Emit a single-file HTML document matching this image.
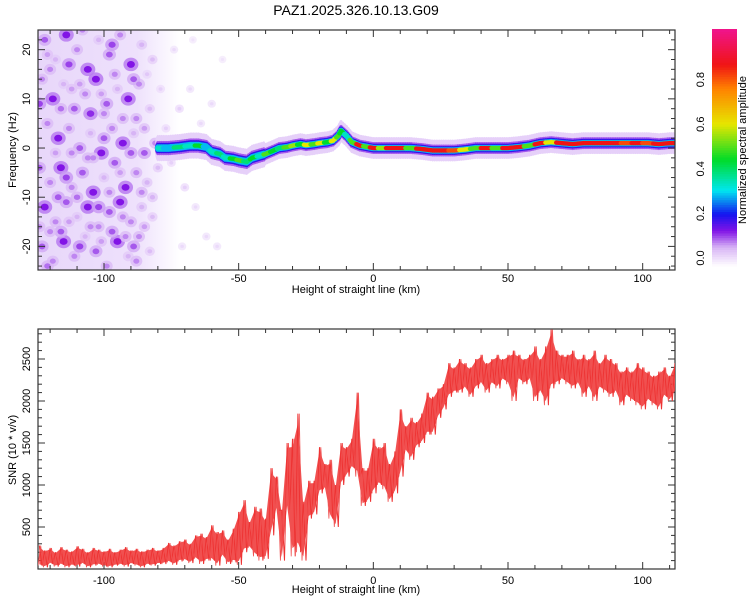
<!DOCTYPE html>
<html><head><meta charset="utf-8"><style>
body{margin:0;background:#fff;width:750px;height:600px;overflow:hidden}
svg{font-family:"Liberation Sans",sans-serif}
</style></head><body>
<svg id="c" width="750" height="600"></svg>
<script>
// ---- data ----
const xTicks=[-100,-50,0,50,100];
const freqTicks=[-20,-10,0,10,20];
const snrTicks=[500,1000,1500,2000,2500];
const cbTicks=[0,0.2,0.4,0.6,0.8];
const ridgeKm=[-80,-76,-72,-68,-65,-62,-60,-57,-55,-52,-50,-47,-45,-42,-40,-37,-35,-32,-30,-27,-25,-22,-20,-17,-15,-13,-12,-10,-8,-5,-3,0,3,6,10,14,18,22,26,30,34,38,42,46,50,54,58,62,66,70,74,78,82,86,90,94,98,102,106,110,112];
const ridgeHz=[0,0,0.2,0.5,0.5,0.2,-0.8,-1.2,-2,-2.2,-2.5,-2.8,-2,-1.5,-1.2,-0.5,0,0.2,0.5,0.8,0.6,0.8,1,1.2,1.5,2.5,3.5,2.5,1.2,0.5,0.3,0,0,0,0,0,-0.2,-0.5,-0.5,-0.5,-0.3,0,0,0,0,0.2,0.5,1,1.2,1,0.8,1,1,1,1,1,1,1,0.8,1,1];
const ridgeAmp=[0.35,0.3,0.4,0.35,0.45,0.3,0.35,0.4,0.35,0.45,0.5,0.4,0.45,0.35,0.5,0.45,0.4,0.5,0.55,0.45,0.6,0.5,0.6,0.45,0.6,0.5,0.45,0.35,0.5,0.85,0.5,0.85,0.55,0.85,0.85,0.5,0.85,0.85,0.85,0.8,0.6,0.5,0.85,0.5,0.85,0.85,0.5,0.85,0.6,0.85,0.85,0.85,0.85,0.85,0.85,0.8,0.85,0.8,0.85,0.85,0.85];
const blobs=[[-122,22,0.12],[-118,18,0.08],[-114,23,0.15],[-110,20,0.1],[-106,16,0.15],[-102,22,0.08],[-98,19,0.12],[-94,23,0.1],[-90,17,0.15],[-86,21,0.08],[-82,18,0.07],
[-123,14,0.1],[-119,10,0.15],[-115,13,0.08],[-111,8,0.12],[-107,11,0.1],[-103,14,0.15],[-99,9,0.12],[-95,12,0.08],[-91,10,0.15],[-87,13,0.1],[-83,8,0.07],[-79,12,0.05],
[-121,5,0.1],[-117,2,0.15],[-113,4,0.1],[-109,0,0.12],[-105,3,0.08],[-101,-1,0.15],[-97,4,0.1],[-93,1,0.15],[-89,3,0.08],[-85,-1,0.12],[-81,1,0.1],
[-124,-4,0.12],[-120,-7,0.1],[-116,-4,0.15],[-112,-8,0.1],[-108,-5,0.12],[-104,-9,0.15],[-100,-6,0.08],[-96,-3,0.12],[-92,-8,0.15],[-88,-5,0.1],[-84,-7,0.08],[-80,-4,0.07],
[-122,-12,0.15],[-118,-15,0.1],[-114,-11,0.12],[-110,-14,0.08],[-106,-12,0.15],[-102,-16,0.1],[-98,-13,0.12],[-94,-11,0.15],[-90,-15,0.1],[-86,-12,0.08],[-82,-14,0.07],
[-123,-20,0.12],[-119,-23,0.1],[-115,-19,0.15],[-111,-22,0.1],[-107,-18,0.08],[-103,-21,0.12],[-99,-24,0.1],[-95,-19,0.15],[-91,-22,0.08],[-87,-18,0.1],[-83,-21,0.07],
[-120,16,0.1],[-108,24,0.1],[-96,15,0.1],[-112,-1,0.1],[-100,7,0.1],[-88,6,0.1],[-116,-17,0.12],[-104,-2,0.1],[-92,-18,0.1],[-84,15,0.06],[-77,4,0.05],[-75,-3,0.05],
[-72,8,0.05],[-70,-8,0.05],[-68,12,0.04],[-66,-12,0.04],[-64,5,0.04],[-62,-18,0.04],[-60,9,0.04],[-58,-20,0.04],[-56,18,0.03],[-74,20,0.04],[-71,-20,0.04],[-67,22,0.03],
[-121,19,0.09],[-116,8,0.11],[-113,17,0.13],[-109,13,0.09],[-105,7,0.14],[-101,11,0.09],[-97,21,0.13],[-93,6,0.1],[-89,14,0.12],[-85,4,0.09],[-124,9,0.13],[-118,-1,0.09],
[-114,-6,0.13],[-110,-10,0.11],[-106,-2,0.1],[-102,-12,0.13],[-98,-9,0.1],[-94,-5,0.09],[-90,-1,0.12],[-86,-9,0.1],[-82,-10,0.08],[-120,-17,0.1],[-117,-10,0.12],[-113,-15,0.09],
[-109,-20,0.13],[-105,-16,0.1],[-101,-19,0.09],[-97,-17,0.12],[-93,-14,0.1],[-89,-20,0.12],[-85,-16,0.09],[-124,-16,0.1],[-121,-24,0.11],[-112,12,0.09],[-100,2,0.12],[-88,-23,0.1]];
const snrHi=[280,220,250,200,260,230,210,270,240,200,250,230,210,240,200,230,260,220,240,210,230,250,220,
250,310,280,330,350,300,400,420,380,
520,440,460,350,480,
680,820,560,740,720,600,
1200,1100,700,1500,1550,1850,
800,1050,1050,1450,1250,1300,
1000,1500,1450,1550,2100,1200,
1200,1550,1450,1500,1250,1400,
1900,1700,1800,1750,1850,2100,
2050,2150,2200,2450,2400,
2500,2450,2400,2500,2550,2450,2500,2550,2500,
2550,2600,2550,2500,2550,2650,2500,2650,2850,2600,2550,
2550,2600,2500,2550,2500,2600,2450,2550,2500,2450,
2350,2400,2350,2450,2400,2350,2300,2350,2400,2300,2450];
const snrLo=[40,20,60,30,50,20,40,30,60,20,40,50,30,20,40,50,30,60,40,20,50,40,60,
60,80,50,90,100,70,120,60,100,
100,40,150,60,80,
50,200,250,150,100,120,
400,700,100,700,150,200,
100,600,650,900,950,600,
500,1000,1100,1200,1100,750,
800,900,1000,950,800,900,
1100,1400,1300,1450,1500,1600,
1600,1800,1900,2050,2100,
2100,2150,2050,2150,2200,2100,2200,2150,2250,
2200,2000,2250,2200,2250,2000,2100,1950,2150,2200,2250,
2200,2150,2200,2050,2150,2000,2150,2100,2050,2100,
1950,2050,2000,1950,1900,2000,1950,1900,2050,2000,2100];
const snrStart=-124, snrStep=2;

// ---- helpers ----
const NS="http://www.w3.org/2000/svg";
const svg=document.getElementById('c');
function mk(tag,attrs,parent){const e=document.createElementNS(NS,tag);for(const k in attrs)e.setAttribute(k,attrs[k]);(parent||svg).appendChild(e);return e;}
const X0=38,X1=675,KM0=-124.5,KM1=112;
const xs=v=>X0+(v-KM0)/(KM1-KM0)*(X1-X0);
const T0=30,T1=270,HZ0=24,HZ1=-24.8;
const ys=v=>T0+(HZ0-v)/(HZ0-HZ1)*(T1-T0);
const B0=329,B1=569,S1=2857;
const yb=v=>B1-v/S1*(B1-B0);
const stops=[[0,[255,255,255]],[0.08,[215,180,245]],[0.15,[130,20,230]],[0.22,[20,20,240]],[0.32,[0,230,240]],[0.45,[0,220,40]],[0.6,[230,230,0]],[0.75,[255,130,0]],[0.85,[240,20,20]],[1,[240,20,140]]];
function cmap(a){for(let i=1;i<stops.length;i++){if(a<=stops[i][0]){const [p0,c0]=stops[i-1],[p1,c1]=stops[i];const t=(a-p0)/(p1-p0);return 'rgb('+c0.map((c,j)=>Math.round(c+(c1[j]-c)*t)).join(',')+')';}}return 'rgb(240,20,140)';}

// title
let t=mk('text',{x:356,y:15,'text-anchor':'middle','font-size':14,fill:'#000'});t.textContent='PAZ1.2025.326.10.13.G09';



// ---- top spectrogram ----
const defs=mk('defs',{});
const cp=mk('clipPath',{id:'clipT'},defs);mk('rect',{x:X0,y:T0,width:X1-X0,height:T1-T0},cp);
const lg=mk('linearGradient',{id:'fade',x1:0,x2:1,y1:0,y2:0},defs);
mk('stop',{offset:0,'stop-color':'rgb(232,215,250)'},lg);mk('stop',{offset:0.7,'stop-color':'rgb(238,225,252)'},lg);mk('stop',{offset:1,'stop-color':'#fff'},lg);
const gTop=mk('g',{'clip-path':'url(#clipT)'});


mk('rect',{x:X0,y:T0,width:xs(-72)-X0,height:T1-T0,fill:'url(#fade)'},gTop);
blobs.forEach(b=>{
  const e=mk('ellipse',{cx:xs(b[0]),cy:ys(b[1]),rx:3+b[2]*30,ry:3+b[2]*25,fill:cmap(b[2]*0.7),opacity:0.85},gTop);
  
  
});
blobs.forEach(b=>{
  const e=mk('ellipse',{cx:xs(b[0]),cy:ys(b[1]),rx:1+b[2]*20,ry:1+b[2]*16,fill:cmap(b[2])},gTop);
  
  
});
const layers=[[11,0.05],[6,0.12],[4.5,0.2],[3.2,0.3]];
function ridgeSamples(){const out=[];for(let i=0;i<ridgeKm.length-1;i++){const n=Math.max(1,Math.round((ridgeKm[i+1]-ridgeKm[i])*1.5));for(let k=0;k<n;k++){const f=k/n;out.push([ridgeKm[i]+(ridgeKm[i+1]-ridgeKm[i])*f,ridgeHz[i]+(ridgeHz[i+1]-ridgeHz[i])*f,f<0.5?ridgeAmp[i]:ridgeAmp[i+1]]);}}out.push([ridgeKm[ridgeKm.length-1],ridgeHz[ridgeHz.length-1],ridgeAmp[ridgeAmp.length-1]]);return out;}
const rs=ridgeSamples();
layers.forEach(([ry,a])=>{rs.forEach(s=>{
  const e=mk('ellipse',{cx:xs(s[0]),cy:ys(s[1]),rx:3,ry:s[0]<-40?ry*1.2:ry,fill:cmap(Math.min(a,s[2]))},gTop);
  
  
});});
rs.forEach(s=>{
  const e=mk('ellipse',{cx:xs(s[0]),cy:ys(s[1]),rx:2.5,ry:2.2,fill:cmap(s[2])},gTop);
  
  
});

// axes frames & ticks
function frame(y0,y1,name){
  const r=mk('rect',{x:X0,y:y0,width:X1-X0,height:y1-y0,fill:'none',stroke:'#333','stroke-width':1.2});
  
  
  for(let v=-120;v<=110;v+=10){const x=xs(v);const L=v%50===0?7:4;
    mk('line',{x1:x,x2:x,y1:y1,y2:y1-L,stroke:'#333'});mk('line',{x1:x,x2:x,y1:y0,y2:y0+L,stroke:'#333'});}
}
frame(T0,T1,'spectrogram-frame');
frame(B0,B1,'snr-frame');
for(let v=-24;v<=24;v+=2){const y=ys(v);if(y<T0||y>T1)continue;const L=v%10===0?7:4;mk('line',{x1:X0,x2:X0+L,y1:y,y2:y,stroke:'#333'});mk('line',{x1:X1,x2:X1-L,y1:y,y2:y,stroke:'#333'});}
for(let v=100;v<=2800;v+=100){const y=yb(v);const L=v%500===0?7:4;mk('line',{x1:X0,x2:X0+L,y1:y,y2:y,stroke:'#333'});mk('line',{x1:X1,x2:X1-L,y1:y,y2:y,stroke:'#333'});}
[[282,'top'],[584,'bottom']].forEach(([ty,p])=>{
  xTicks.forEach(v=>{const e=mk('text',{x:xs(v),y:ty,'text-anchor':'middle','font-size':11});e.textContent=v;
    
    });
});
[[293,'x-axis-title-top'],[593,'x-axis-title-bottom']].forEach(([ty,n])=>{const e=mk('text',{x:356,y:ty,'text-anchor':'middle','font-size':11});e.textContent='Height of straight line (km)';
  
  });
freqTicks.forEach(v=>{const y=ys(v);const e=mk('text',{x:0,y:0,'text-anchor':'middle','font-size':11,transform:`translate(30,${y}) rotate(-90)`});e.textContent=v;
  
  });
snrTicks.forEach(v=>{const y=yb(v);const e=mk('text',{x:0,y:0,'text-anchor':'middle','font-size':11,transform:`translate(30,${y}) rotate(-90)`});e.textContent=v;
  
  });
let yt=mk('text',{'text-anchor':'middle','font-size':11,transform:'translate(16,150) rotate(-90)'});yt.textContent='Frequency (Hz)';


yt=mk('text',{'text-anchor':'middle','font-size':11,transform:'translate(16,450) rotate(-90)'});yt.textContent='SNR (10 * v/v)';



// ---- SNR ----
const gB=mk('g',{});
const cpb=mk('clipPath',{id:'clipB'},defs);mk('rect',{x:X0,y:B0,width:X1-X0,height:B1-B0},cpb);
gB.setAttribute('clip-path','url(#clipB)');
const band=[];
snrHi.forEach((h,i)=>{const k=snrStart+i*snrStep;band.push(xs(k).toFixed(1)+','+yb(h*0.93+snrLo[i]*0.07).toFixed(1));});
for(let i=snrLo.length-1;i>=0;i--){const k=snrStart+i*snrStep;band.push(xs(k).toFixed(1)+','+yb(snrLo[i]*0.93+snrHi[i]*0.07).toFixed(1));}
const bp=mk('polygon',{points:band.join(' '),fill:'#ee3333',opacity:0.85,'stroke-linejoin':'round'},gB);


const pts=[],pts2=[];
snrHi.forEach((h,i)=>{const k=snrStart+i*snrStep;pts.push(xs(k).toFixed(1)+','+yb(h).toFixed(1));pts.push(xs(k+snrStep/2).toFixed(1)+','+yb(snrLo[i]).toFixed(1));
  pts2.push(xs(k-snrStep/4).toFixed(1)+','+yb(snrLo[i]).toFixed(1));pts2.push(xs(k+snrStep/4).toFixed(1)+','+yb(h).toFixed(1));});
const pl=mk('polyline',{points:pts.join(' '),fill:'none',stroke:'#ee3333','stroke-width':1},gB);


const pl2=mk('polyline',{points:pts2.join(' '),fill:'none',stroke:'#f05050','stroke-width':0.8},gB);



// ---- colorbar ----
const CB0=29,CB1=266;
const cbG=mk('g',{});


for(let i=0;i<100;i++){const a0=i/100;const y=CB1-(a0+0.01)*(CB1-CB0);mk('rect',{x:712,y:y,width:25,height:(CB1-CB0)/100+0.6,fill:cmap(a0+0.005)},cbG);}
const CL0=35,CL1=258;
cbTicks.forEach(v=>{const y=CL1-v*(CL1-CL0)*1.0;const e=mk('text',{'text-anchor':'middle','font-size':11,transform:`translate(704,${y}) rotate(-90)`});e.textContent=v.toFixed(1);
  
  });
const ct=mk('text',{'text-anchor':'middle','font-size':11,transform:'translate(746,150) rotate(-90)'});ct.textContent='Normalized spectral amplitude';


</script>
</body></html>
